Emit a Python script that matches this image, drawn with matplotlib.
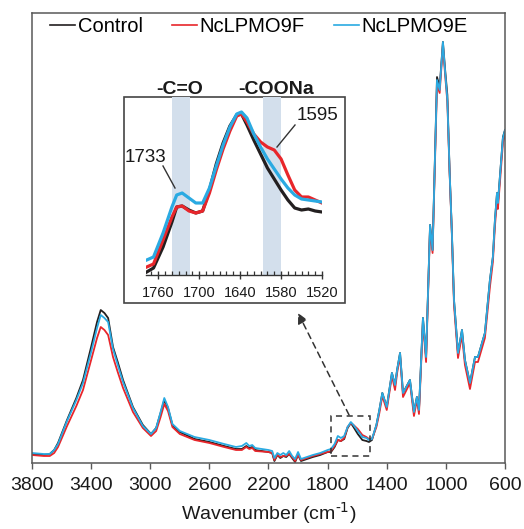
import matplotlib
matplotlib.use("Agg")
import matplotlib.pyplot as plt
from matplotlib.patches import Rectangle

plt.rcParams['font.family'] = ['Liberation Sans', 'DejaVu Sans']
plt.rcParams['mathtext.default'] = 'regular'

# ---------------- data (arbitrary absorbance units) ----------------
wavenumber = [3800, 3720, 3680, 3650, 3624, 3563, 3500, 3455, 3400, 3360, 3335, 3310, 3285,
              3252, 3220, 3184, 3117, 3050, 2995, 2960, 2930, 2905, 2880, 2850, 2800, 2700,
              2600, 2500, 2420, 2380, 2350, 2330, 2310, 2290, 2200, 2175, 2160, 2140, 2120,
              2100, 2080, 2060, 2040, 2020, 2000, 1980, 1960, 1900, 1850, 1800, 1777, 1753,
              1731, 1710, 1688, 1665, 1643, 1625, 1596, 1565, 1538, 1520, 1500, 1470, 1450,
              1430, 1400, 1365, 1344, 1330, 1310, 1290, 1243, 1216, 1196, 1182, 1155, 1134,
              1107, 1090, 1060, 1042, 1020, 1005, 990, 975, 960, 945, 918, 891, 871, 837,
              803, 783, 736, 702, 682, 668, 654, 648, 614, 600]
control = [9, 8, 9, 13, 20, 43, 65, 83, 116, 141, 153, 150, 145,
           116, 101, 83, 56, 38, 29, 35, 50, 63, 55, 38, 31, 24,
           21, 17, 14, 14, 17, 15, 16, 13, 11, 10, 2, 8, 5,
           7, 6, 9, 5, 1, 8, 2, 3, 6, 8, 11, 11, 16,
           23, 22, 24, 35, 40, 36, 29, 23, 22, 21, 23, 38, 53,
           70, 56, 90, 78, 93, 110, 70, 83, 51, 66, 53, 145, 106,
           238, 213, 386, 376, 421, 393, 368, 293, 233, 163, 110, 133, 103, 80,
           106, 106, 130, 183, 206, 243, 270, 260, 326, 333]
nclpmo9f = [8, 7, 7, 10, 16, 37, 57, 73, 103, 125, 136, 133, 128,
            106, 91, 75, 51, 35, 27, 32, 46, 59, 52, 36, 29, 23,
            20, 16, 13, 13, 16, 14, 15, 12, 11, 10, 3, 8, 6,
            7, 7, 9, 6, 2, 8, 3, 4, 7, 9, 11, 12, 17,
            23, 22, 25, 36, 40, 38, 34, 28, 26, 24, 24, 36, 50,
            67, 53, 87, 73, 90, 107, 66, 80, 47, 63, 49, 141, 101,
            235, 210, 378, 370, 418, 388, 361, 291, 231, 158, 105, 128, 98, 74,
            101, 101, 125, 176, 201, 237, 263, 254, 320, 328]
nclpmo9e = [10, 9, 9, 13, 19, 42, 63, 80, 111, 135, 148, 145, 141,
            114, 98, 81, 55, 37, 29, 35, 51, 65, 56, 39, 32, 26,
            23, 19, 16, 17, 20, 17, 18, 15, 13, 12, 5, 10, 8,
            10, 8, 12, 7, 4, 11, 4, 5, 8, 10, 13, 14, 19,
            27, 25, 27, 36, 41, 38, 32, 26, 25, 23, 24, 38, 53,
            70, 56, 90, 78, 93, 110, 70, 83, 51, 66, 53, 145, 106,
            238, 213, 383, 373, 421, 391, 363, 293, 233, 163, 110, 133, 103, 80,
            106, 106, 130, 183, 206, 243, 270, 260, 325, 333]

inset_wavenumber = [1777, 1767, 1753, 1740, 1733, 1725, 1715, 1705, 1695, 1685, 1675, 1665,
                    1655, 1645, 1638, 1630, 1620, 1610, 1600, 1590, 1580, 1570, 1560, 1550,
                    1540, 1530, 1520]
inset_control = [3, 7, 28, 53, 68, 69, 65, 62, 64, 85, 111, 132,
                 149, 160, 161, 150, 135, 121, 107, 96, 85, 75, 67, 65, 66, 64, 63]
inset_9f = [8, 11, 35, 58, 68, 69, 64, 62, 64, 82, 105, 126,
            144, 159, 161, 153, 141, 133, 128, 125, 116, 100, 85, 78, 78, 75, 72]
inset_9e = [15, 18, 42, 68, 80, 82, 77, 72, 72, 87, 109, 130,
            148, 161, 163, 157, 141, 128, 116, 106, 96, 87, 80, 76, 75, 74, 73]

series_names = ['Control', 'NcLPMO9F', 'NcLPMO9E']
colors = ['#231f20', '#e8262b', '#2aaae2']
main_ticks = [3800, 3400, 3000, 2600, 2200, 1800, 1400, 1000, 600]
inset_ticks = [1760, 1700, 1640, 1580, 1520]
bands = [(1740, 1713), (1606, 1580)]
band_labels = ['-C=O', '-COONa']

# ---------------- figure ----------------
W, H = 524, 529
fig = plt.figure(figsize=(W / 100, H / 100), dpi=100)

def fx(px):
    return px / W

def fy(py):
    return 1 - py / H

spine_c = '#595959'
ax = fig.add_axes([fx(32), fy(463), fx(505) - fx(32), fy(13) - fy(463)])
for y, c, n in zip([control, nclpmo9f, nclpmo9e], colors, series_names):
    ax.plot(wavenumber, y, color=c, lw=1.3, label=n)
ax.set_xlim(3800, 600)
ax.set_ylim(0, 450)
ax.set_xticks(main_ticks)
ax.set_yticks([])
ax.tick_params(axis='x', direction='out', length=4, width=1, color=spine_c,
               labelsize=14, pad=6, labelcolor='#1a1a1a')
for s in ax.spines.values():
    s.set_color(spine_c)
    s.set_linewidth(1.1)
ax.set_xlabel(r'Wavenumber (cm$^{\text{-1}}$)', fontsize=14, labelpad=5, color='#1a1a1a')

leg = ax.legend(loc='center left', bbox_to_anchor=(fx(50), fy(27)),
                bbox_transform=fig.transFigure, ncol=3, frameon=False,
                fontsize=14.5, handlelength=1.25, handletextpad=0.12,
                columnspacing=1.45, borderpad=0, borderaxespad=0)
for lh in leg.get_lines():
    lh.set_linewidth(1.2)

# dashed box around zoomed region
ax.add_patch(Rectangle((1777, 7), 1513 - 1777, 40, fill=False, ls=(0, (4, 3)),
                       lw=1.1, edgecolor='#333333', zorder=5))
ax.annotate('', xy=(2000, 150), xytext=(1655, 48),
            arrowprops=dict(arrowstyle='-|>,head_length=0.6,head_width=0.3',
                            linestyle=(0, (4, 3)), color='#333333', lw=1.1,
                            shrinkA=0, shrinkB=0))

# inset frame
fig.add_artist(Rectangle((fx(124), fy(303)), fx(345) - fx(124), fy(97) - fy(303),
                         transform=fig.transFigure, fill=True, facecolor='white',
                         edgecolor='#444444', lw=1.2, zorder=3))

ins = fig.add_axes([fx(146), fy(275), fx(322) - fx(146), fy(97) - fy(275)], zorder=4)
ins.patch.set_alpha(0)
for b in bands:
    ins.axvspan(b[0], b[1], color='#d3dfec', lw=0, zorder=0)
for y, c in zip([inset_control, inset_9f, inset_9e], colors):
    ins.plot(inset_wavenumber, y, color=c, lw=2.3, zorder=2)
ins.set_xlim(1778, 1520)
ins.set_ylim(0, 178)
ins.set_xticks(inset_ticks)
ins.set_xticks(range(1770, 1519, -10), minor=True)
ins.set_yticks([])
for side in ['left', 'right', 'top']:
    ins.spines[side].set_visible(False)
ins.spines['bottom'].set_color('#333333')
ins.spines['bottom'].set_linewidth(1.0)
ins.tick_params(axis='x', which='major', direction='inout', length=6, width=1,
                color='#333333', labelsize=10.5, pad=5, labelcolor='#1a1a1a')
ins.tick_params(axis='x', which='minor', direction='in', length=3, width=0.9,
                color='#333333')

# band labels above inset
for b, lab in zip([180, 276], band_labels):
    fig.text(fx(b), fy(89), lab, ha='center', va='center', fontsize=14,
             fontweight='bold', color='#1a1a1a')

# peak annotations
fig.text(fx(145), fy(157), '1733', ha='center', va='center', fontsize=13.5, color='#1a1a1a', zorder=6)
fig.text(fx(317), fy(115), '1595', ha='center', va='center', fontsize=13.5, color='#1a1a1a', zorder=6)
fig.add_artist(plt.Line2D([fx(163), fx(175)], [fy(166), fy(188)], transform=fig.transFigure,
                          color='#333333', lw=1.0, zorder=6))
fig.add_artist(plt.Line2D([fx(295), fx(277)], [fy(125), fy(147)], transform=fig.transFigure,
                          color='#333333', lw=1.0, zorder=6))

fig.savefig('out.png', dpi=100)
